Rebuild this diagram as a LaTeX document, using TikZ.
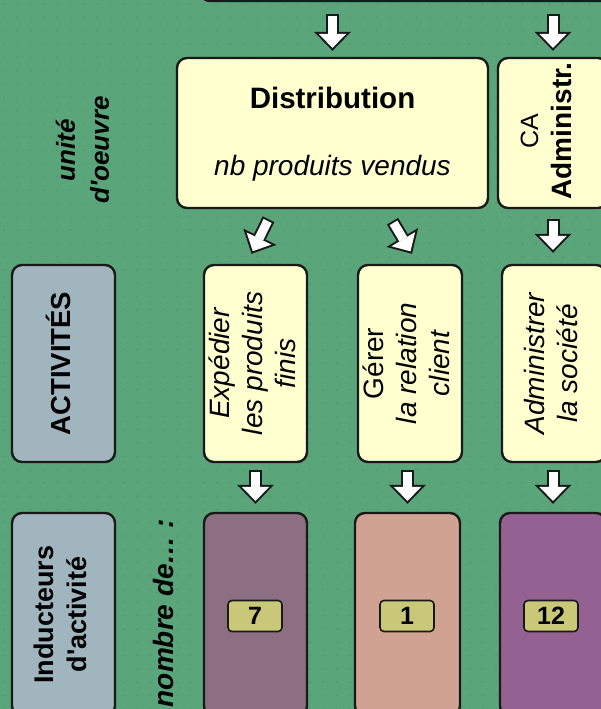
\documentclass[tikz,border=0pt]{standalone}
\usepackage{fontspec}
\setmainfont{Liberation Sans}[Ligatures=TeXOff]
\usepackage{graphicx}
\usetikzlibrary{arrows.meta,calc}
\definecolor{bg}{RGB}{90,165,122}
\definecolor{dotc}{RGB}{78,154,110}
\definecolor{cream}{RGB}{255,255,208}
\definecolor{grayblue}{RGB}{160,181,190}
\definecolor{mauve}{RGB}{140,112,130}
\definecolor{salmon}{RGB}{208,162,146}
\definecolor{plum}{RGB}{147,98,146}
\definecolor{badgec}{RGB}{200,200,120}
\definecolor{edge}{RGB}{25,25,25}
\newcommand\fsA{\fontsize{28}{33}\selectfont}
\newcommand\rtext[1]{\rotatebox{90}{\begin{tabular}{@{}c@{}}#1\end{tabular}}}
\tikzset{
 box/.style={draw=edge, line width=2.4pt, rounded corners=10pt, inner sep=0pt},
 colbox/.style={box, minimum height=197pt},
 lowbox/.style={box, minimum height=203pt},
 badge/.style={draw=edge, line width=1.6pt, rounded corners=4pt, fill=badgec, minimum width=54pt, minimum height=31pt, inner sep=0pt, font=\fontsize{25}{25}\selectfont\bfseries},
 arrowout/.style={draw=edge, line width=13pt, -{Triangle[width=37pt,length=19pt,line width=0pt]}},
 arrowin/.style={draw=white, line width=9pt, shorten <=2pt, shorten >=2.9pt, -{Triangle[width=27.5pt,length=14.1pt,line width=0pt]}},
}
\newcommand\blockarr[2]{\draw[arrowout] #1 -- #2; \draw[arrowin] #1 -- #2;}
\begin{document}
\begin{tikzpicture}[x=1pt,y=-1pt]
\useasboundingbox (0,0) rectangle (601,709);
\fill[bg] (0,0) rectangle (601,709);
\foreach \i in {0,...,45} {\foreach \j in {0,...,53} {\fill[dotc] (\i*13.3+4,\j*13.3+4) circle[radius=0.9pt];}}
% top (cut) box
\node[box, fill=cream, minimum width=440pt, minimum height=41pt] (top) at (420,-19.5) {};
% second row
\node[box, fill=cream, minimum width=311pt, minimum height=150pt] (dist) at (332.5,133) {};
\node[anchor=base, font=\fontsize{29.5}{33}\selectfont\bfseries] (distname) at (332.5,108) {Distribution};
\node[anchor=base, font=\fsA\itshape] (distunit) at (332.5,175) {nb produits vendus};
\node[box, fill=cream, minimum width=110pt, minimum height=150pt] (ca) at (553,133) {};
\node[font=\fsA, inner sep=0pt] (catext) at ($(ca.center)+(-5,-2)$) {\rtext{\fontsize{25}{35}\selectfont CA\\\bfseries Administr.}};
\node[font=\fontsize{26}{34}\selectfont\bfseries\itshape, inner sep=0pt] (uo) at (85,150) {\rtext{unité\\d'oeuvre}};
% activities row
\node[colbox, fill=grayblue, minimum width=103pt, font=\fontsize{27.5}{33}\selectfont\bfseries] (act) at (63.5,363.5) {\rtext{ACTIVITÉS}};
\node[colbox, fill=cream, minimum width=103pt, font=\fsA] (exp) at (255.5,363.5) {\rtext{\itshape Expédier\\\itshape les produits\\\itshape finis}};
\node[colbox, fill=cream, minimum width=104pt, font=\fsA] (ger) at (410,363.5) {\rtext{Gérer\\\itshape la relation\\\itshape client}};
\node[colbox, fill=cream, minimum width=104pt, font=\fsA] (adm) at (554,363.5) {\rtext{\itshape Administrer\\\itshape la société}};
% drivers row
\node[lowbox, fill=grayblue, minimum width=103pt, font=\fontsize{27}{33}\selectfont\bfseries] (ind) at (63.5,614.5) {\rtext{Inducteurs\\d'activité}};
\node[font=\fsA\bfseries\itshape, inner sep=0pt] (nb) at (163,613) {\rotatebox{90}{nombre de… :}};
\node[lowbox, fill=mauve, minimum width=103pt] (b7) at (255.5,614.5) {};
\node[lowbox, fill=salmon, minimum width=105pt] (b1) at (407.5,614.5) {};
\node[lowbox, fill=plum, minimum width=106pt] (b12) at (553,614.5) {};
\node[badge] (n7) at (255,616) {7};
\node[badge] (n1) at (407,616) {1};
\node[badge] (n12) at (551,616) {12};
% arrows
\blockarr{($(top.south -| dist.center)+(0,12)$)}{($(dist.north)+(0,-6)$)}
\blockarr{($(top.south -| ca.center)+(0,12)$)}{($(ca.north)+(0,-6)$)}
\blockarr{($(dist.south)+(-64,10)$)}{($(exp.north)+(-4,-10)$)}
\blockarr{($(dist.south)+(60,12)$)}{($(ger.north)+(2,-10)$)}
\blockarr{($(ca.south)+(0,10)$)}{($(ca.south |- adm.north)+(0,-11)$)}
\blockarr{($(exp.south)+(0,7)$)}{($(b7.north)+(0,-8)$)}
\blockarr{($(b1.north |- ger.south)+(0,7)$)}{($(b1.north)+(0,-8)$)}
\blockarr{($(b12.north |- adm.south)+(0,7)$)}{($(b12.north)+(0,-8)$)}
\end{tikzpicture}
\end{document}
